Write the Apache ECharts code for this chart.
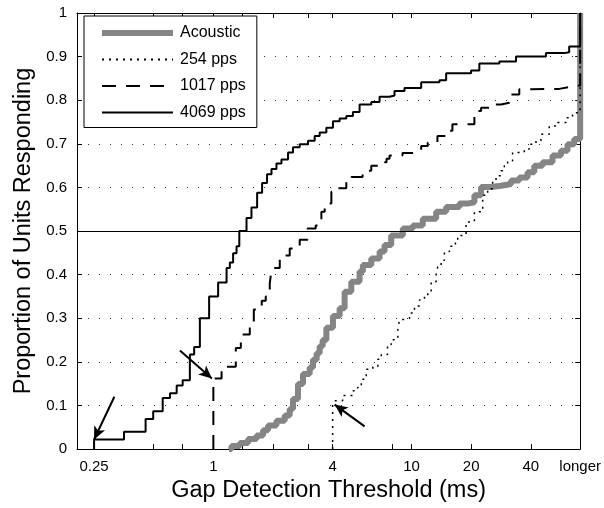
<!DOCTYPE html>
<html><head><meta charset="utf-8">
<script src="https://cdn.jsdelivr.net/npm/echarts@6/dist/echarts.min.js"></script>
<style>html,body{margin:0;padding:0;background:#fff}#c{width:604px;height:508px}</style>
</head><body><div id="c"></div>
<script>
// ---- data (x in ms, y = proportion) ----
const acoustic = [[1.2,0],[1.235,0.007],[1.36,0.014],[1.497,0.023],[1.651,0.031],[1.782,0.043],[1.888,0.054],[2.082,0.065],[2.292,0.077],[2.429,0.092],[2.523,0.115],[2.674,0.149],[2.834,0.172],[3.063,0.187],[3.183,0.205],[3.322,0.22],[3.44,0.236],[3.562,0.25],[3.718,0.278],[4.014,0.305],[4.338,0.323],[4.597,0.361],[4.968,0.384],[5.47,0.407],[5.684,0.422],[6.266,0.437],[6.902,0.453],[7.311,0.468],[7.9,0.49],[9.04,0.506],[10.15,0.513],[11.4,0.528],[13.32,0.544],[14.96,0.555],[17.45,0.563],[19.21,0.566],[20.77,0.582],[22.45,0.601],[25.2,0.604],[28.31,0.608],[31.8,0.616],[35.0,0.623],[38.54,0.635],[41.65,0.65],[45.86,0.658],[51.49,0.673],[56.79,0.684],[61.31,0.699],[66.26,0.711],[71,1]];
const pps254 = [[4,0],[4.0,0.103],[4.094,0.111],[4.492,0.123],[5.045,0.134],[5.346,0.141],[5.58,0.16],[5.913,0.183],[6.383,0.188],[6.764,0.206],[7.039,0.217],[7.569,0.24],[7.9,0.251],[8.531,0.274],[8.699,0.297],[9.403,0.30],[9.771,0.312],[10.35,0.328],[10.97,0.342],[11.63,0.35],[12.08,0.361],[12.57,0.384],[13.32,0.403],[13.57,0.418],[14.11,0.433],[14.66,0.453],[15.54,0.465],[16.66,0.478],[17.11,0.49],[18.86,0.521],[20.77,0.544],[22.87,0.582],[24.24,0.597],[25.68,0.612],[26.72,0.627],[28.31,0.638],[29.41,0.65],[30.56,0.661],[32.38,0.68],[37.1,0.688],[39.31,0.699],[42.48,0.707],[45.02,0.722],[49.57,0.741],[54.58,0.749],[60.16,0.76],[64.96,0.771],[71,1]];
const pps1017 = [[1,0],[1,0.162],[1.1,0.189],[1.298,0.232],[1.376,0.263],[1.527,0.29],[1.6,0.32],[1.755,0.34],[1.838,0.35],[1.926,0.38],[1.971,0.415],[2.163,0.444],[2.429,0.46],[2.728,0.48],[2.992,0.506],[3.284,0.513],[3.509,0.544],[3.646,0.563],[3.94,0.59],[4.254,0.598],[4.688,0.613],[4.968,0.624],[5.664,0.638],[6.266,0.65],[7.144,0.658],[7.482,0.666],[7.748,0.673],[9.009,0.679],[10.12,0.682],[11.19,0.695],[12.08,0.703],[13.52,0.718],[14.96,0.73],[16.09,0.745],[20.77,0.764],[21.5,0.775],[22.45,0.783],[25.2,0.79],[28.31,0.794],[31.17,0.813],[35.0,0.825],[40.09,0.826],[55.67,0.83],[62.52,0.834],[71,1]];
const pps4069 = [[0.25,0],[0.25,0.022],[0.354,0.04],[0.455,0.069],[0.497,0.087],[0.555,0.117],[0.604,0.128],[0.653,0.146],[0.70,0.158],[0.761,0.217],[0.80,0.234],[0.855,0.30],[0.952,0.35],[1.057,0.382],[1.166,0.415],[1.211,0.428],[1.258,0.449],[1.309,0.465],[1.352,0.50],[1.47,0.53],[1.557,0.554],[1.663,0.588],[1.762,0.61],[1.866,0.63],[1.965,0.642],[2.082,0.655],[2.206,0.664],[2.382,0.68],[2.523,0.692],[2.728,0.699],[3.004,0.707],[3.246,0.718],[3.44,0.726],[3.718,0.737],[4.014,0.752],[4.338,0.758],[4.688,0.764],[5.063,0.773],[5.47,0.79],[6.27,0.796],[6.9,0.808],[7.75,0.811],[8.21,0.821],[9.22,0.828],[11.19,0.841],[13.84,0.846],[14.96,0.862],[19.99,0.868],[22.0,0.884],[27.76,0.889],[33.7,0.90],[47.7,0.908],[59.0,0.910],[62.5,0.923],[71,1]];

const seriesNames = ['Acoustic', '254 pps', '1017 pps', '4069 pps'];
const xTickValues = [0.25, 1, 4, 10, 20, 40, 71];
const xTickLabels = ['0.25', '1', '4', '10', '20', '40', 'longer'];
const xMinorTicks = [0.25, 0.5, 0.7, 1, 1.4, 2, 3, 4, 8, 10, 20, 40];
const xMin = 0.205, xMax = 71;
const halfLine = 0.5;
// arrows: [tail, head]
const arrows = [
  [[0.3164, 0.12], [0.25, 0.022]],
  [[0.678, 0.226], [0.983, 0.162]],
  [[5.8, 0.052], [4.094, 0.102]]
];

const FONT = '"Liberation Sans", Arial, Helvetica, sans-serif';
const chart = echarts.init(document.getElementById('c'), null, {renderer: 'canvas'});

function xFmt(v) {
  for (let i = 0; i < xTickValues.length; i++) {
    if (Math.abs(Math.log(v / xTickValues[i])) < 0.01) return xTickLabels[i];
  }
  return '';
}
function yFmt(v) {
  if (Math.abs(v) < 1e-9) return '0';
  if (Math.abs(v - 1) < 1e-9) return '1';
  return v.toFixed(1);
}

const axisLineStyle = {show: true, onZero: false, lineStyle: {color: '#000', width: 1}};
const hiddenSymbol = {opacity: 0, color: 'rgba(0,0,0,0)', borderWidth: 0};

const option = {
  animation: false,
  backgroundColor: '#fff',
  grid: {left: 77, right: 23, top: 13, bottom: 56, containLabel: false},
  legend: {
    left: 84, top: 16, orient: 'vertical',
    itemWidth: 71, itemHeight: 16, itemGap: 10.5,
    padding: [9, 11, 7, 15],
    backgroundColor: '#fff', borderColor: '#000', borderWidth: 1, borderRadius: 0,
    selectedMode: false,
    itemStyle: hiddenSymbol,
    textStyle: {fontFamily: FONT, fontSize: 16, color: '#000', padding: [0, 0, 0, 2]},
    data: [
      {name: seriesNames[0], lineStyle: {width: 6}, itemStyle: hiddenSymbol},
      {name: seriesNames[1], lineStyle: {width: 2}, itemStyle: hiddenSymbol},
      {name: seriesNames[2], lineStyle: {width: 2}, itemStyle: hiddenSymbol},
      {name: seriesNames[3], lineStyle: {width: 2}, itemStyle: hiddenSymbol}
    ]
  },
  xAxis: [
    {
      type: 'log', min: xMin, max: xMax, position: 'bottom',
      name: 'Gap Detection Threshold (ms)', nameLocation: 'middle', nameGap: 28,
      nameTextStyle: {fontFamily: FONT, fontSize: 23.5, color: '#000'},
      axisLine: axisLineStyle,
      axisTick: {show: true, inside: true, length: 5, customValues: xMinorTicks, lineStyle: {color: '#000'}},
      axisLabel: {show: true, customValues: xTickValues, formatter: xFmt, fontFamily: FONT, fontSize: 15, color: '#000', margin: 10, hideOverlap: false},
      splitLine: {show: false}, minorTick: {show: false}, minorSplitLine: {show: false}
    },
    {
      type: 'log', min: xMin, max: xMax, position: 'top',
      axisLine: axisLineStyle,
      axisTick: {show: true, inside: true, length: 5, customValues: xMinorTicks, lineStyle: {color: '#000'}},
      axisLabel: {show: false},
      splitLine: {show: false}
    }
  ],
  yAxis: [
    {
      type: 'value', min: 0, max: 1, interval: 0.1, position: 'left',
      name: 'Proportion of Units Responding', nameLocation: 'middle', nameGap: 38,
      nameTextStyle: {fontFamily: FONT, fontSize: 23.5, color: '#000'},
      axisLine: axisLineStyle,
      axisTick: {show: true, inside: true, length: 5, lineStyle: {color: '#000'}},
      axisLabel: {formatter: yFmt, fontFamily: FONT, fontSize: 15, color: '#000', margin: 10},
      splitLine: {show: true, lineStyle: {color: '#333', width: 1, type: [1, 10]}}
    },
    {
      type: 'value', min: 0, max: 1, interval: 0.1, position: 'right',
      axisLine: axisLineStyle,
      axisTick: {show: true, inside: true, length: 5, lineStyle: {color: '#000'}},
      axisLabel: {show: false},
      splitLine: {show: false}
    }
  ],
  series: [
    {
      name: seriesNames[0], type: 'line', step: 'end', data: acoustic, symbol: 'none',
      lineStyle: {color: '#858585', width: 6}, itemStyle: {color: '#858585'},
      markLine: {
        silent: true, symbol: 'none', label: {show: false},
        lineStyle: {color: '#000', width: 1, type: 'solid'},
        data: [{yAxis: halfLine}]
      }
    },
    {
      name: seriesNames[1], type: 'line', step: 'end', data: pps254, symbol: 'none',
      lineStyle: {color: '#000', width: 1.5, type: [2, 5]}, itemStyle: {color: '#000'}
    },
    {
      name: seriesNames[2], type: 'line', step: 'end', data: pps1017, symbol: 'none',
      lineStyle: {color: '#000', width: 2, type: [14, 10]}, itemStyle: {color: '#000'}
    },
    {
      name: seriesNames[3], type: 'line', step: 'end', data: pps4069, symbol: 'none',
      lineStyle: {color: '#000', width: 2}, itemStyle: {color: '#000'},
      markLine: {
        silent: true, label: {show: false}, symbolSize: [9, 13],
        lineStyle: {color: '#000', width: 2, type: 'solid'},
        data: arrows.map(a => [
          {coord: a[0], symbol: 'none'},
          {coord: a[1], symbol: 'arrow'}
        ])
      }
    }
  ]
};
chart.setOption(option);
</script>
</body></html>
